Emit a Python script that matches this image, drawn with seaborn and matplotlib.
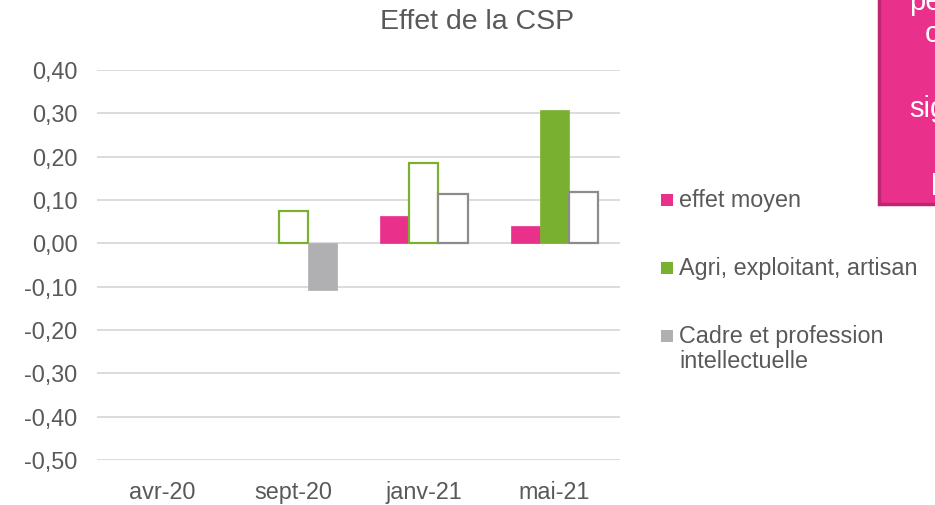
import matplotlib
matplotlib.use("Agg")
import matplotlib.pyplot as plt
from matplotlib.patches import Rectangle
import numpy as np
import pandas as pd
import seaborn as sns

# Survey waves and estimated effects per group
periods = ["avr-20", "sept-20", "janv-21", "mai-21"]
effet_moyen = [np.nan, np.nan, 0.064, 0.041]
agri_exploitant = [np.nan, 0.074, 0.185, 0.308]
cadre_profession = [np.nan, -0.108, 0.114, 0.118]
# Filled bars are significant, outlined bars are not
sig_effet_moyen = [False, False, True, True]
sig_agri = [False, False, False, True]
sig_cadre = [False, True, False, False]

groups = ["effet moyen", "Agri, exploitant, artisan",
          "Cadre et profession\nintellectuelle"]
group_colors = ["#E9318B", "#7AB030", "#B0B0B2"]
edge_colors = ["#E9318B", "#7AB030", "#8C8C8C"]
yticks = [0.40, 0.30, 0.20, 0.10, 0.00, -0.10, -0.20, -0.30, -0.40, -0.50]

rows = []
for g, vals, sigs in zip(groups,
                         [effet_moyen, agri_exploitant, cadre_profession],
                         [sig_effet_moyen, sig_agri, sig_cadre]):
    for p, v, s in zip(periods, vals, sigs):
        rows.append({"periode": p, "groupe": g, "effet": v, "sig": s})
df = pd.DataFrame(rows)

sns.set_theme(style="white")
plt.rcParams["font.family"] = ["Liberation Sans", "DejaVu Sans"]
text_color = "#595959"
fs = 16.8

fig = plt.figure(figsize=(9.35, 5.05), dpi=100)
ax = fig.add_axes([97 / 935, 45 / 505, 523 / 935, 390 / 505])

sns.barplot(data=df, x="periode", y="effet", hue="groupe",
            order=periods, hue_order=groups, palette=group_colors,
            errorbar=None, width=0.67, dodge=True, legend=False, ax=ax)

sig_lookup = {(r.groupe, r.periode): r.sig for r in df.itertuples()}
for gi, container in enumerate(ax.containers):
    for bar in container:
        if np.isnan(bar.get_height()):
            continue
        cat = int(round(bar.get_x() + bar.get_width() / 2))
        if sig_lookup[(groups[gi], periods[cat])]:
            bar.set_facecolor(group_colors[gi])
            bar.set_edgecolor(group_colors[gi])
            bar.set_linewidth(0.5)
        else:
            bar.set_facecolor("white")
            bar.set_edgecolor(edge_colors[gi])
            bar.set_linewidth(1.6)
        bar.set_zorder(3)

ax.set_ylim(-0.50, 0.40)
ax.set_xlim(-0.5, 3.5)
ax.set_yticks(yticks)
ax.set_yticklabels([f"{t:.2f}".replace(".", ",") for t in yticks])
ax.yaxis.grid(True, color="#D9D9D9", linewidth=1.3)
ax.set_axisbelow(True)
for s in ax.spines.values():
    s.set_visible(False)
ax.tick_params(axis="y", length=0, pad=14, labelsize=fs, labelcolor=text_color)
ax.tick_params(axis="x", length=0, pad=15, labelsize=fs, labelcolor=text_color)
ax.set_xlabel("")
ax.set_ylabel("")

fig.text(477 / 935, 1 - 22 / 505, "Effet de la CSP", ha="center", va="center",
         fontsize=20.5, color=text_color)

# Legend
legend_y = [200, 268, 336]
for g, c, y in zip(groups, group_colors, legend_y):
    fig.patches.append(Rectangle((661 / 935, 1 - (y + 6) / 505), 12 / 935, 12 / 505,
                                 transform=fig.transFigure, facecolor=c,
                                 edgecolor="none"))
    n_lines = g.count("\n") + 1
    fig.text(679 / 935, 1 - (y + 13 * (n_lines - 1)) / 505, g, ha="left",
             va="center", fontsize=fs, color=text_color, linespacing=1.1)

# Callout box at the right edge
fig.patches.append(Rectangle((879 / 935, 1 - 204 / 505), 80 / 935, 220 / 505,
                             transform=fig.transFigure, facecolor="#E9318B",
                             edgecolor="#C0256F", linewidth=2.5))
for txt, x, y in [("pe", 909, 10), ("c", 925, 42), ("sig", 909, 117), ("l", 931, 195)]:
    fig.text(x / 935, 1 - y / 505, txt, ha="left", va="baseline",
             fontsize=21, color="white")

fig.savefig("out.png", dpi=100)
